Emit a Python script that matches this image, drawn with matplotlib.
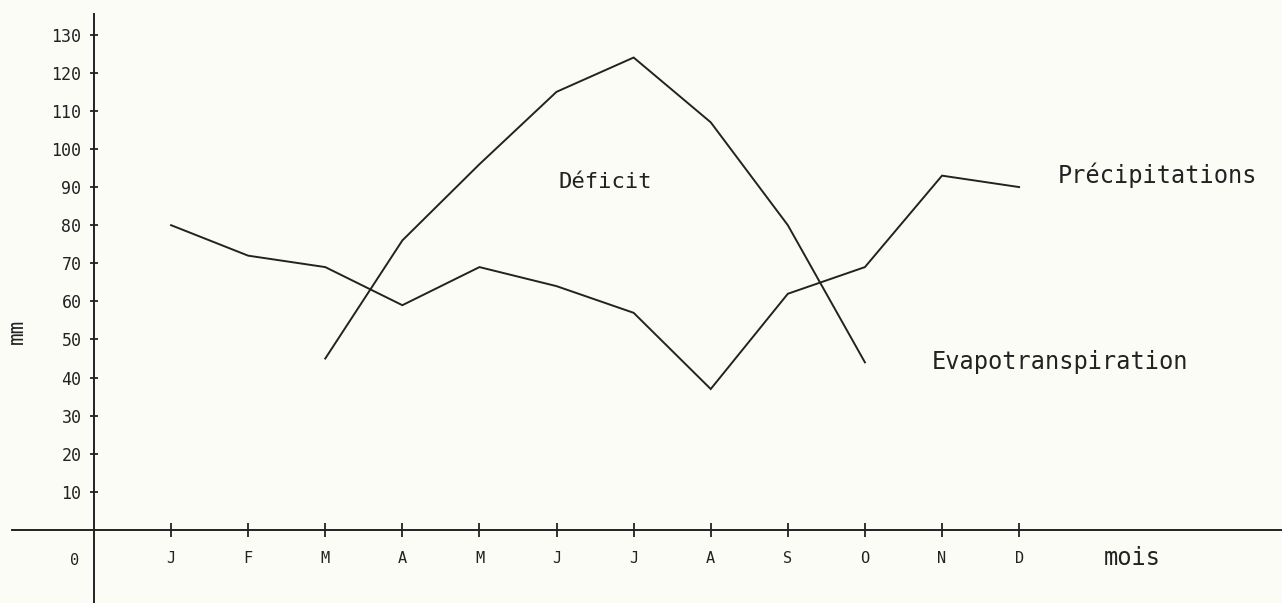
import matplotlib
matplotlib.use('Agg')
import matplotlib.pyplot as plt
import numpy as np

# monthly values (mm)
months = ['J', 'F', 'M', 'A', 'M', 'J', 'J', 'A', 'S', 'O', 'N', 'D']
precip = [80, 72, 69, 59, 69, 64, 57, 37, 62, 69, 93, 90]
# evapotranspiration only drawn from March to October
evapo_months = [3, 4, 5, 6, 7, 8, 9, 10]
evapo = [45, 76, 96, 115, 124, 107, 80, 44]
yticks = [10, 20, 30, 40, 50, 60, 70, 80, 90, 100, 110, 120, 130]

ink = '#222222'
font = 'DejaVu Sans Mono'

fig = plt.figure(figsize=(12.82, 6.03), dpi=100, facecolor='#fcfcf7')
ax = fig.add_axes([0, 0, 1, 1])
ax.set_facecolor('#fcfcf7')

x_month = np.arange(1, 13)
ax.plot(x_month, precip, color=ink, lw=1.4, solid_joinstyle='miter')
ax.plot(evapo_months, evapo, color=ink, lw=1.4, solid_joinstyle='miter')

# axes crossing at the origin, like the hand-drawn figure
ax.set_xlim(-1.219, 15.41)
ax.set_ylim(-19.16, 139.1)
for s in ['top', 'right']:
    ax.spines[s].set_visible(False)
ax.spines['left'].set_position(('data', 0))
ax.spines['bottom'].set_position(('data', 0))
ax.spines['left'].set_bounds(-19.16, 135.4)
ax.spines['bottom'].set_bounds(-1.06, 15.41)
for s in ['left', 'bottom']:
    ax.spines[s].set_color(ink)
    ax.spines[s].set_linewidth(1.4)

ax.set_xticks(x_month)
ax.set_xticklabels(months, fontfamily=font, fontsize=11, color=ink)
ax.set_yticks(yticks)
ax.set_yticklabels([str(v) for v in yticks], fontfamily=font, fontsize=12, color=ink)
ax.tick_params(axis='x', direction='inout', length=10, width=1.3, color=ink, pad=10)
ax.tick_params(axis='y', direction='inout', length=6, width=1.3, color=ink, pad=6)

ax.text(-0.25, -7.9, '0', fontfamily=font, fontsize=11, color=ink, ha='center', va='center')
ax.text(-1.0, 52, 'mm', fontfamily=font, fontsize=15, color=ink, rotation=90, ha='center', va='center')
ax.text(13.47, -7.3, 'mois', fontfamily=font, fontsize=17, color=ink, ha='center', va='center')
ax.text(6.63, 91.3, 'Déficit', fontfamily=font, fontsize=16, color=ink, ha='center', va='center')
ax.text(12.5, 93.2, 'Précipitations', fontfamily=font, fontsize=17, color=ink, ha='left', va='center')
ax.text(10.87, 44.1, 'Evapotranspiration', fontfamily=font, fontsize=17, color=ink, ha='left', va='center')

fig.savefig('out.png', dpi=100, facecolor=fig.get_facecolor())
